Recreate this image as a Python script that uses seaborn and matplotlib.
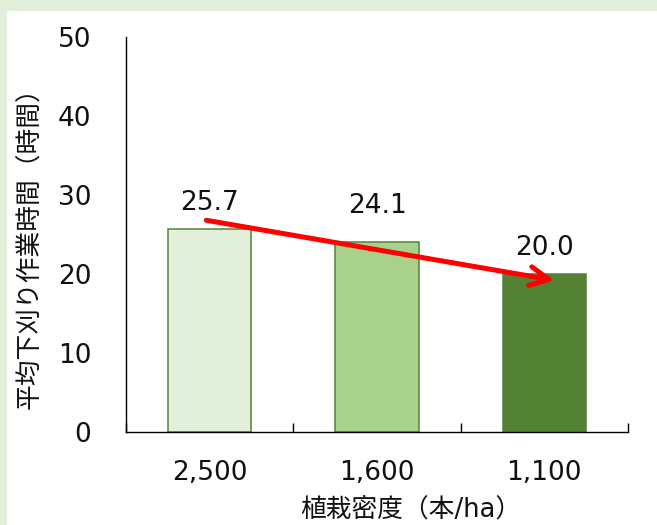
import matplotlib
matplotlib.use("Agg")
import matplotlib.pyplot as plt
from matplotlib.patches import Rectangle
import seaborn as sns
import pandas as pd

# Planting density categories and mean weeding time (hours)
densities = ["2,500", "1,600", "1,100"]
hours = [25.7, 24.1, 20.0]
fill_colors = ["#E2EFDA", "#A9D18E", "#548235"]
edge_color = "#548235"
label_lift = [1.6, 2.9, 1.7]  # vertical gap between bar top and its value label

sns.set_style("white")
plt.rcParams["font.family"] = ["DejaVu Sans", "Noto Sans CJK JP"]

df = pd.DataFrame({"density": densities, "hours": hours})

fig = plt.figure(figsize=(6.57, 5.25), dpi=100, facecolor="#E2EFDA")
# white panel inside the light-green frame
fig.patches.append(Rectangle((7 / 657, 0), 1, 1 - 11 / 525, transform=fig.transFigure,
                             facecolor="white", edgecolor="none", zorder=-10))

ax = fig.add_axes([126 / 657, 1 - 432 / 525, 502 / 657, 395 / 525])
ax.set_facecolor("none")

sns.barplot(data=df, x="density", y="hours", hue="density", palette=fill_colors,
            width=0.5, legend=False, ax=ax, saturation=1)
for bar in ax.patches:
    bar.set_edgecolor(edge_color)
    bar.set_linewidth(1.1)

ax.set_ylim(0, 50)
ax.set_xlim(-0.5, 2.5)
ax.set_yticks([0, 10, 20, 30, 40, 50])

for spine in ["top", "right"]:
    ax.spines[spine].set_visible(False)
for spine in ["left", "bottom"]:
    ax.spines[spine].set_color("black")
    ax.spines[spine].set_linewidth(1.0)

ax.tick_params(axis="y", length=0, pad=25, labelsize=19, labelcolor="#111111")
ax.tick_params(axis="x", which="major", length=0, pad=20, labelsize=19, labelcolor="#111111")
# category divider ticks pointing up into the plot
ax.set_xticks([-0.5, 0.5, 1.5, 2.5], minor=True)
ax.tick_params(axis="x", which="minor", bottom=True, direction="in", length=6.5,
               width=1.0, color="black")

# value labels above the bars
for i, (v, lift) in enumerate(zip(hours, label_lift)):
    ax.text(i, v + lift, f"{v:.1f}", ha="center", va="bottom", fontsize=19, color="#111111")

# red trend arrow from the first bar to the last
ax.annotate("", xy=(2.06, hours[2] - 0.8), xytext=(-0.02, hours[0] + 1.1),
            arrowprops=dict(arrowstyle="->", color="#FF0000", lw=3.6, mutation_scale=34,
                            shrinkA=0, shrinkB=0), zorder=5)

ax.set_xlabel("植栽密度（本/ha）", fontsize=18.5, color="#111111")
ax.set_ylabel("平均下刈り作業時間（時間）", fontsize=18.5, color="#111111")
ax.xaxis.set_label_coords(0.568, -0.163)
ax.yaxis.set_label_coords(-0.165, 0.481)

fig.savefig("out.png", dpi=100, facecolor=fig.get_facecolor())
